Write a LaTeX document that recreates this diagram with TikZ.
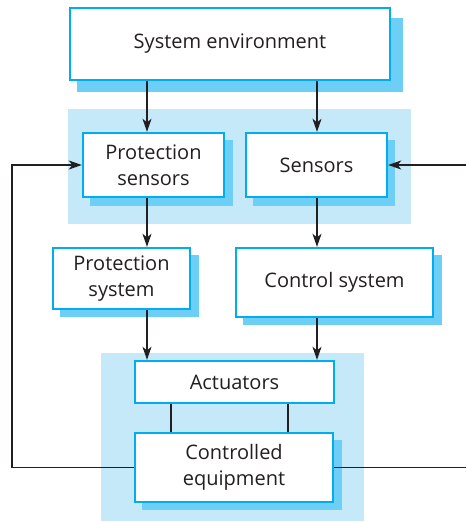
\documentclass[tikz,border=0pt]{standalone}
\usepackage{fontspec}
\setmainfont{Open Sans}
\usetikzlibrary{arrows.meta}
\definecolor{bcyan}{HTML}{00AEEF}
\definecolor{shcyan}{HTML}{6DCFF6}
\definecolor{panel}{HTML}{C5E9F8}
\definecolor{ink}{HTML}{231F20}
\tikzset{
  box/.style={draw=bcyan, line width=2.4pt, fill=white, inner sep=0pt, align=center,
    text=ink, font=\fontsize{20}{26}\selectfont},
  arr/.style={draw=ink, line width=1.3pt, -{Stealth[length=13pt,width=9pt,inset=3.5pt]}},
  ln/.style={draw=ink, line width=1.3pt},
  shad/.style={fill=shcyan},
  pan/.style={fill=panel}
}
\begin{document}
\begin{tikzpicture}[x=1pt,y=-1pt]
\useasboundingbox (0,0) rectangle (466,522);
% panels
\fill[pan] (68,109) rectangle (411,224);
\fill[pan] (101,353) rectangle (364,521);
% shadows
\fill[shad] (77,18) rectangle (403,92);
\fill[shad] (90,140) rectangle (233,206);
\fill[shad] (253,140) rectangle (395,206);
\fill[shad] (60,255) rectangle (199,317);
\fill[shad] (243,255) rectangle (442,325);
\fill[shad] (142,440) rectangle (342,510);
% boxes
\node[box, minimum width=320pt, minimum height=72pt] (sysenv) at (230,44) {System environment};
\node[box, minimum width=141pt, minimum height=64pt] (psens) at (153.5,165) {Protection\\sensors};
\node[box, minimum width=141pt, minimum height=64pt] (sens) at (316.5,165) {Sensors};
\node[box, minimum width=137pt, minimum height=61pt] (psys) at (121.5,278.5) {Protection\\system};
\node[box, minimum width=197pt, minimum height=69pt] (ctrl) at (334.5,282.5) {Control system};
\node[box, minimum width=199pt, minimum height=42pt] (act) at (234.5,382) {Actuators};
\node[box, minimum width=198pt, minimum height=69pt] (ceq) at (234,467.5) {Controlled\\equipment};
% arrows
\draw[arr] (sysenv.south -| 147,0) -- (psens.north -| 147,0);
\draw[arr] (sysenv.south -| 317,0) -- (sens.north -| 317,0);
\draw[arr] (psens.south -| 147,0) -- (psys.north -| 147,0);
\draw[arr] (sens.south -| 317,0) -- (ctrl.north -| 317,0);
\draw[arr] (psys.south -| 147,0) -- (act.north -| 147,0);
\draw[arr] (ctrl.south -| 317,0) -- (act.north -| 317,0);
\draw[ln] (act.south -| 171,0) -- (ceq.north -| 171,0);
\draw[ln] (act.south -| 288,0) -- (ceq.north -| 288,0);
% feedback
\coordinate (lcorner) at (12,467.5);
\draw[arr] (ceq.west) -- (lcorner) |- (psens.west);
\coordinate (rin) at (466,165);
\draw[arr] (rin) -- (sens.east);
\coordinate (rout) at (466,467.5);
\draw[ln] (ceq.east) -- (rout);
\end{tikzpicture}
\end{document}
